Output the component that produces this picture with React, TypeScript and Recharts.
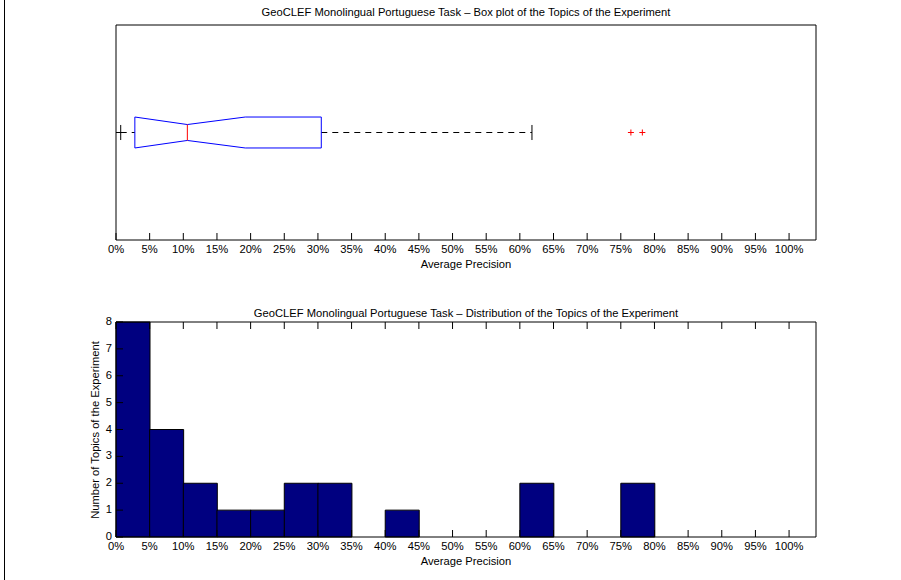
import React from 'react';
import { ComposedChart, Line, Bar, Scatter, XAxis, YAxis } from 'recharts';

// x axis ticks, in percent of average precision
const percentTicks = [0, 5, 10, 15, 20, 25, 30, 35, 40, 45, 50, 55, 60, 65, 70, 75, 80, 85, 90, 95, 100];

// histogram: 5% bins (centres) and number of topics in each
const binCenters = [2.5, 7.5, 12.5, 17.5, 22.5, 27.5, 32.5, 37.5, 42.5, 47.5, 52.5, 57.5, 62.5, 67.5, 72.5, 77.5, 82.5, 87.5, 92.5, 97.5];
const topicCounts = [8, 4, 2, 1, 1, 2, 2, 0, 1, 0, 0, 0, 2, 0, 0, 2, 0, 0, 0, 0];
const countTicks = [0, 1, 2, 3, 4, 5, 6, 7, 8];

// box plot statistics (percent)
const whiskerLow = 0.7;
const quartileLow = 2.8;
const median = 10.6;
const notchHigh = 19.2;
const quartileHigh = 30.5;
const whiskerHigh = 61.8;
const outliers = [76.5, 78.2];

// box plot half heights, in y units around y = 1
const boxHalf = 0.072;
const notchHalf = 0.037;
const capHalf = 0.035;

const FONT = '"Liberation Sans", Arial, Helvetica, sans-serif';
const TICK_LEN = 7;

const boxOutline = [
  { x: quartileLow, y: 1 + boxHalf },
  { x: median, y: 1 + notchHalf },
  { x: notchHigh, y: 1 + boxHalf },
  { x: quartileHigh, y: 1 + boxHalf },
  { x: quartileHigh, y: 1 - boxHalf },
  { x: notchHigh, y: 1 - boxHalf },
  { x: median, y: 1 - notchHalf },
  { x: quartileLow, y: 1 - boxHalf },
  { x: quartileLow, y: 1 + boxHalf },
];
const medianLine = [
  { x: median, y: 1 + notchHalf },
  { x: median, y: 1 - notchHalf },
];
const lowWhisker = [
  { x: whiskerLow, y: 1 },
  { x: quartileLow, y: 1 },
];
const highWhisker = [
  { x: quartileHigh, y: 1 },
  { x: whiskerHigh, y: 1 },
];
const lowCap = [
  { x: whiskerLow, y: 1 + capHalf },
  { x: whiskerLow, y: 1 - capHalf },
];
const highCap = [
  { x: whiskerHigh, y: 1 + capHalf },
  { x: whiskerHigh, y: 1 - capHalf },
];
const outlierPoints = outliers.map((x) => ({ x, y: 1 }));
const histData = binCenters.map((x, i) => ({ x, count: topicCounts[i] }));

const bottomTick = (showLabel: boolean) => (props: any) => {
  const { x, y, payload } = props;
  return (
    <g>
      <line x1={x} x2={x} y1={y} y2={y - TICK_LEN} stroke="#000" />
      {showLabel && (
        <text x={x} y={y + 13} textAnchor="middle" fontSize={11.2} fontFamily={FONT} fill="#000">
          {`${payload.value}%`}
        </text>
      )}
    </g>
  );
};

const topTick = (props: any) => {
  const { x, y } = props;
  return <line x1={x} x2={x} y1={y} y2={y + TICK_LEN} stroke="#000" />;
};

const leftTick = (showLabel: boolean) => (props: any) => {
  const { x, y, payload } = props;
  return (
    <g>
      <line x1={x} x2={x + TICK_LEN} y1={y} y2={y} stroke="#000" />
      {showLabel && (
        <text x={x - 4} y={y + 3} textAnchor="end" fontSize={11.2} fontFamily={FONT} fill="#000">
          {payload.value}
        </text>
      )}
    </g>
  );
};

const rightTick = (props: any) => {
  const { x, y } = props;
  return <line x1={x} x2={x - TICK_LEN} y1={y} y2={y} stroke="#000" />;
};

const plusShape = (props: any) => {
  const { cx, cy } = props;
  return (
    <g stroke="#ff0000" strokeWidth={1}>
      <line x1={cx - 3} x2={cx + 3} y1={cy} y2={cy} />
      <line x1={cx} x2={cx} y1={cy - 3} y2={cy + 3} />
    </g>
  );
};

const textStyle: React.CSSProperties = {
  position: 'absolute',
  fontFamily: FONT,
  fontSize: 11.2,
  lineHeight: '11px',
  whiteSpace: 'nowrap',
  color: '#000',
  transform: 'translate(-50%, -50%)',
};

const axes = (xDomain: number[], yDomain: number[], yTicks: number[], yLabels: boolean) => [
  <XAxis
    key="xb"
    xAxisId={0}
    dataKey="x"
    type="number"
    domain={xDomain}
    ticks={percentTicks}
    height={20}
    tickSize={0}
    tickMargin={0}
    tickLine={false}
    axisLine={{ stroke: '#000' }}
    tick={bottomTick(true)}
    interval={0}
  />,
  <XAxis
    key="xt"
    xAxisId="top"
    orientation="top"
    dataKey="x"
    type="number"
    domain={xDomain}
    ticks={percentTicks}
    height={5}
    tickSize={0}
    tickMargin={0}
    tickLine={false}
    axisLine={{ stroke: '#000' }}
    tick={topTick}
    interval={0}
  />,
  <YAxis
    key="yl"
    yAxisId={0}
    type="number"
    domain={yDomain}
    ticks={yTicks}
    width={20}
    tickSize={0}
    tickMargin={0}
    tickLine={false}
    axisLine={{ stroke: '#000' }}
    tick={leftTick(yLabels)}
    interval={0}
  />,
  <YAxis
    key="yr"
    yAxisId="right"
    orientation="right"
    type="number"
    domain={yDomain}
    ticks={yTicks}
    width={5}
    tickSize={0}
    tickMargin={0}
    tickLine={false}
    axisLine={{ stroke: '#000' }}
    tick={rightTick}
    interval={0}
  />,
];

export default function App() {
  const xDomain = [0, 104];
  return (
    <div style={{ position: 'absolute', left: 0, top: 0, width: 901, height: 580, background: '#fff' }}>
      <div style={{ position: 'absolute', left: 4, top: 0, width: 1, height: 580, background: '#000' }} />

      <div style={{ position: 'absolute', left: 0, top: 0 }}>
        <ComposedChart width={901} height={290} margin={{ top: 20, right: 80, bottom: 30, left: 96 }}>
          {axes(xDomain, [0.5, 1.5], [1], false)}
          <Line data={lowWhisker} dataKey="y" stroke="#000" strokeDasharray="6 5" dot={false} activeDot={false} isAnimationActive={false} />
          <Line data={highWhisker} dataKey="y" stroke="#000" strokeDasharray="6 5" dot={false} activeDot={false} isAnimationActive={false} />
          <Line data={lowCap} dataKey="y" stroke="#000" dot={false} activeDot={false} isAnimationActive={false} />
          <Line data={highCap} dataKey="y" stroke="#000" dot={false} activeDot={false} isAnimationActive={false} />
          <Line data={boxOutline} dataKey="y" stroke="#0000ff" dot={false} activeDot={false} isAnimationActive={false} />
          <Line data={medianLine} dataKey="y" stroke="#ff0000" dot={false} activeDot={false} isAnimationActive={false} />
          <Scatter data={outlierPoints} dataKey="y" shape={plusShape} isAnimationActive={false} />
        </ComposedChart>
      </div>

      <div style={{ position: 'absolute', left: 0, top: 290 }}>
        <ComposedChart width={901} height={290} data={histData} barCategoryGap={0} barGap={0} margin={{ top: 27, right: 80, bottom: 23, left: 96 }}>
          {axes(xDomain, [0, 8], countTicks, true)}
          <Bar dataKey="count" fill="#000080" stroke="#000" strokeWidth={1} isAnimationActive={false} />
        </ComposedChart>
      </div>

      <div style={{ ...textStyle, left: 466, top: 12 }}>
        GeoCLEF Monolingual Portuguese Task – Box plot of the Topics of the Experiment
      </div>
      <div style={{ ...textStyle, left: 466, top: 264 }}>Average Precision</div>
      <div style={{ ...textStyle, left: 466, top: 313 }}>
        GeoCLEF Monolingual Portuguese Task – Distribution of the Topics of the Experiment
      </div>
      <div style={{ ...textStyle, left: 466, top: 561 }}>Average Precision</div>
      <div style={{ ...textStyle, left: 95, top: 430, transform: 'translate(-50%, -50%) rotate(-90deg)' }}>
        Number of Topics of the Experiment
      </div>
    </div>
  );
}
